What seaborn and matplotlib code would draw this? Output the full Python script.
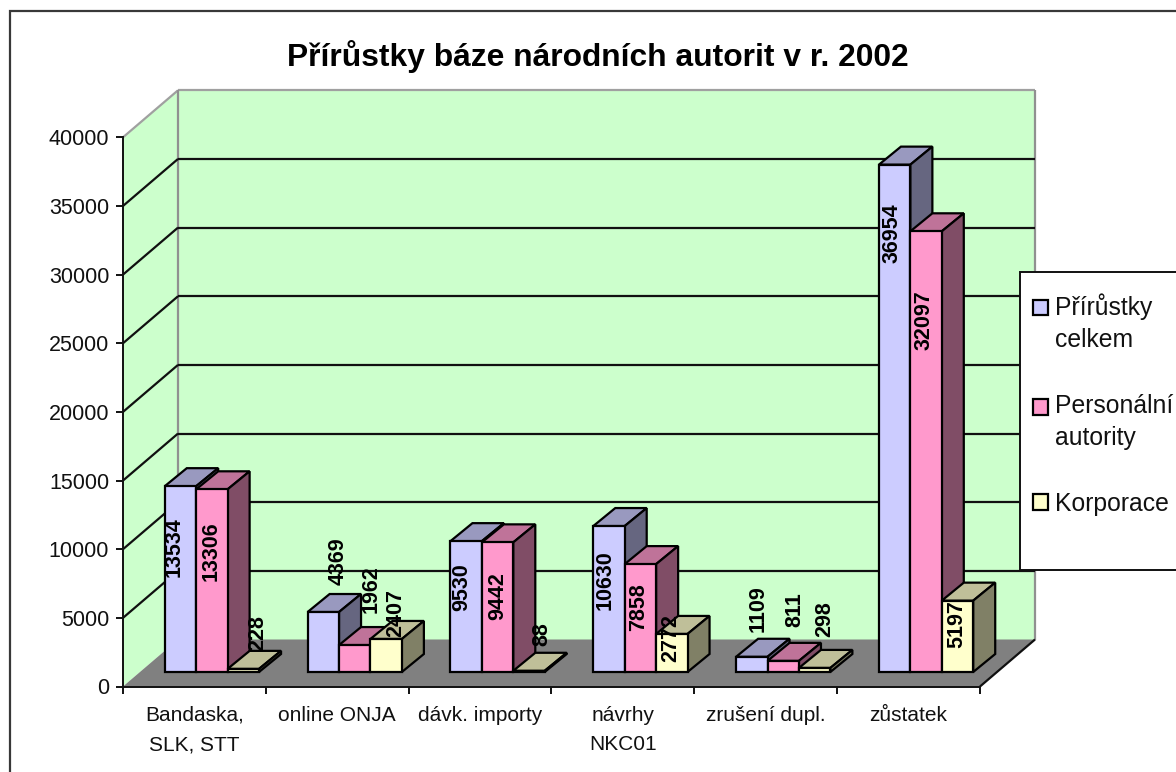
import pandas as pd
import seaborn as sns
import matplotlib
matplotlib.use('Agg')
from matplotlib import pyplot as plt
from matplotlib.patches import Polygon, Rectangle
from matplotlib.transforms import Affine2D, IdentityTransform

categories = ['Bandaska,\nSLK, STT', 'online ONJA', 'dávk. importy', 'návrhy\nNKC01', 'zrušení dupl.', 'zůstatek']
series_names = ['Přírůstky celkem', 'Personální autority', 'Korporace']
legend_labels = ['Přírůstky\ncelkem', 'Personální\nautority', 'Korporace']
prirustky = [13534, 4369, 9530, 10630, 1109, 36954]
personalni = [13306, 1962, 9442, 7858, 811, 32097]
korporace = [228, 2407, 88, 2772, 298, 5197]
y_ticks = [0, 5000, 10000, 15000, 20000, 25000, 30000, 35000, 40000]

front_colors = ['#CCCCFF', '#FF99CC', '#FFFFCC']
top_colors = ['#9999BF', '#BF7399', '#BFBF99']
side_colors = ['#666680', '#804D66', '#808066']

# pixels, for the fake 3d look
WALL = (55, 47)
SHIFT = (17.5, 14.5)
DEPTH = (22, 18)
# label nudges from the bar top centre, one row per series
label_nudge = [
    [(-6, -61), (15, 51), (-4, -46), (-4, -54), (6, 48), (-3, -69)],
    [(-1, -62), (16, 56), (0, -54), (-2, -43), (12, 51), (-2, -89)],
    [(14, 36), (10, 26), (13, 37), (-1, -4), (10, 49), (-1, -23)],
]

sns.set_theme(style='white')
plt.rcParams['font.family'] = ['Liberation Sans', 'DejaVu Sans']

W, H = 1176, 772
fig = plt.figure(figsize=(W / 100, H / 100), dpi=100, facecolor='white')
ax = fig.add_axes([123 / W, (H - 686.5) / H, 857 / W, 549.2 / H])
ax.patch.set_visible(False)

df = pd.DataFrame({
    'kategorie': categories * 3,
    'serie': [s for s in series_names for _ in categories],
    'hodnota': prirustky + personalni + korporace,
})
sns.barplot(data=df, x='kategorie', y='hodnota', hue='serie', order=categories,
            hue_order=series_names, palette=front_colors, saturation=1, width=0.66, gap=0,
            edgecolor='black', linewidth=1.6, legend=False, ax=ax)
ax.set_xlim(-0.5, 5.5)
ax.set_ylim(0, 40000)
ax.set_xlabel('')
ax.set_ylabel('')


def px(x, y, off=(0, 0)):
    p = ax.transData.transform((x, y))
    return (p[0] + off[0], p[1] + off[1])


def poly(points, color, edge, z, lw=1.6):
    ax.add_patch(Polygon(points, closed=True, facecolor=color, edgecolor=edge, linewidth=lw,
                         transform=IdentityTransform(), zorder=z, clip_on=False))


def line(a, b, color, z, lw=1.6):
    ax.plot([a[0], b[0]], [a[1], b[1]], color=color, lw=lw, transform=IdentityTransform(),
            zorder=z, clip_on=False, solid_capstyle='butt')


# walls and floor
x0, x1 = -0.5, 5.5
green = '#CCFFCC'
poly([px(x0, 0, WALL), px(x1, 0, WALL), px(x1, 40000, WALL), px(x0, 40000, WALL)], green, 'none', 0.1)
poly([px(x0, 0), px(x0, 0, WALL), px(x0, 40000, WALL), px(x0, 40000)], green, 'none', 0.1)
poly([px(x0, 0), px(x1, 0), px(x1, 0, WALL), px(x0, 0, WALL)], '#808080', 'none', 0.2)
line(px(x0, 40000), px(x0, 40000, WALL), '#A0A0A0', 0.3)
line(px(x0, 40000, WALL), px(x1, 40000, WALL), '#A0A0A0', 0.3)
line(px(x0, 0, WALL), px(x0, 40000, WALL), '#909090', 0.3)
line(px(x1, 0, WALL), px(x1, 40000, WALL), '#909090', 0.3)
for t in y_ticks[1:-1]:
    line(px(x0, t), px(x0, t, WALL), '#101010', 0.4)
    line(px(x0, t, WALL), px(x1, t, WALL), '#101010', 0.4)
line(px(x1, 0), px(x1, 0, WALL), '#101010', 0.4)

# bars: move the seaborn fronts back and give them a top and a side
values = [prirustky, personalni, korporace]
for s, bars in enumerate(ax.containers):
    for c, bar in enumerate(bars):
        z = 5 + c + s * 0.1
        bar.set_transform(ax.transData + Affine2D().translate(*SHIFT))
        bar.set_zorder(z + 0.02)
        bar.set_clip_on(False)
        left, right = bar.get_x(), bar.get_x() + bar.get_width()
        v = bar.get_height()
        a, b = px(left, v, SHIFT), px(right, v, SHIFT)
        d = px(right, 0, SHIFT)
        poly([a, b, (b[0] + DEPTH[0], b[1] + DEPTH[1]), (a[0] + DEPTH[0], a[1] + DEPTH[1])], top_colors[s], 'black', z)
        poly([d, b, (b[0] + DEPTH[0], b[1] + DEPTH[1]), (d[0] + DEPTH[0], d[1] + DEPTH[1])], side_colors[s], 'black', z + 0.01)
        nudge = label_nudge[s][c]
        ax.annotate(str(values[s][c]), xy=((left + right) / 2, v),
                    xycoords=ax.transData + Affine2D().translate(*SHIFT),
                    xytext=(nudge[0] * 0.72, nudge[1] * 0.72), textcoords='offset points',
                    rotation=90, ha='center', va='center', fontsize=15.5, fontweight='bold',
                    color='black', zorder=30)

# axes
for name in ['top', 'right']:
    ax.spines[name].set_visible(False)
for name in ['left', 'bottom']:
    ax.spines[name].set_color('#101010')
    ax.spines[name].set_linewidth(1.4)
    ax.spines[name].set_zorder(1)
ax.set_yticks(y_ticks)
ax.set_yticklabels([str(t) for t in y_ticks])
ax.tick_params(axis='y', length=5, width=1.4, color='#101010', pad=5, labelsize=15.5, labelcolor='#111111', left=True)
ax.set_xticks([i for i in range(6)])
ax.set_xticklabels(categories, linespacing=1.68)
ax.tick_params(axis='x', which='major', length=0, pad=14, labelsize=15, labelcolor='#111111')
ax.set_xticks([i - 0.5 for i in range(7)], minor=True)
ax.tick_params(axis='x', which='minor', bottom=True, length=5, width=1.4, color='#101010')

fig.text(598 / W, (H - 57) / H, 'Přírůstky báze národních autorit v r. 2002', ha='center', va='center',
         fontsize=22.9, fontweight='bold', color='black')

# chart frame and legend box run off the image on the right
fig.add_artist(Rectangle((10, -20), 1300, H - 11 + 20, facecolor='none', edgecolor='#383838', linewidth=1.6,
                         transform=IdentityTransform(), zorder=1))
fig.add_artist(Rectangle((1019.5, H - 570), 300, 298, facecolor='white', edgecolor='#101010', linewidth=1.4,
                         transform=IdentityTransform(), zorder=3))
handles = [Rectangle((0, 0), 1, 1, facecolor=col, edgecolor='black', linewidth=1.6) for col in front_colors]
leg = fig.legend(handles, legend_labels, loc='upper left', bbox_to_anchor=(1033 / W, (H - 293) / H),
                 frameon=False, fontsize=17.8, borderaxespad=0, borderpad=0, handlelength=0.6,
                 handleheight=0.6, handletextpad=0.3, labelspacing=1.68, labelcolor='#111111')
for text, handle, label in zip(leg.get_texts(), leg.legend_handles, legend_labels):
    text.set_linespacing(1.45)
    if '\n' in label:
        handle.set_y(handle.get_y() + 11.5)

fig.savefig('out.png', dpi=100)
